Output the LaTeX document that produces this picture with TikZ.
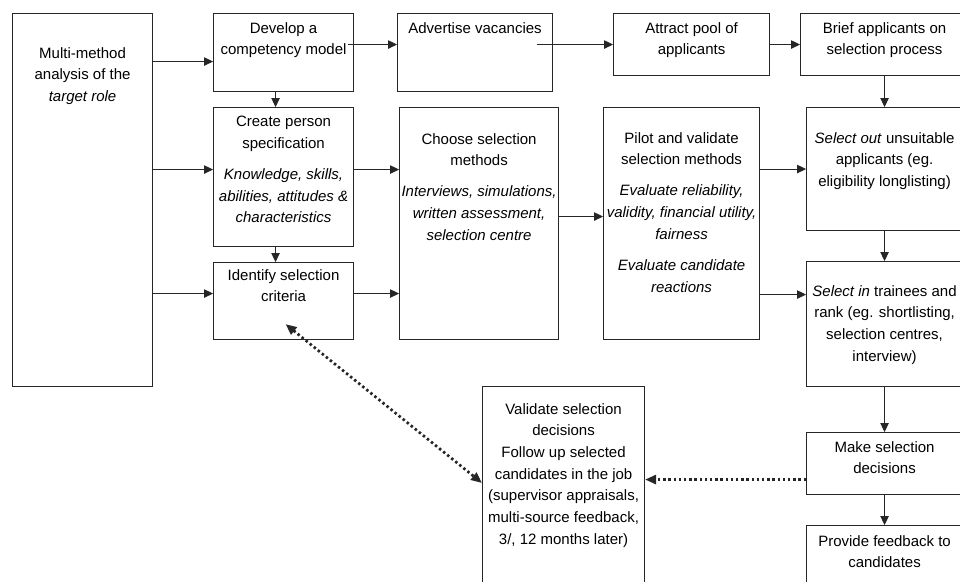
\documentclass[tikz,border=0pt]{standalone}
\usepackage{fontspec}
\setmainfont{Liberation Sans}
\usetikzlibrary{arrows.meta}

\begin{document}
\begin{tikzpicture}[x=1pt, y=-1pt,
    box/.style={draw=black!85, line width=1.1pt, anchor=north west, inner sep=0pt},
    txt/.style={anchor=north, align=center, inner sep=0pt, font=\fontsize{15}{21.7}\selectfont},
    arr/.style={draw=black!85, line width=1.1pt, -{Triangle[length=9pt,width=8.5pt]}},
    dots/.style={draw=black!85, line width=2.7pt, dash pattern=on 2.5pt off 2.7pt}]
  \useasboundingbox (0,0) rectangle (960,581);

  \node(MULTI) [box, minimum width=140pt, minimum height=373pt] at (12,13) {};
  \node(DEV)   [box, minimum width=140pt, minimum height=78pt]  at (213,13) {};
  \node(ADV)   [box, minimum width=155pt, minimum height=78pt]  at (397,13) {};
  \node(ATTR)  [box, minimum width=156pt, minimum height=62pt]  at (613,13) {};
  \node(BRIEF) [box, minimum width=168pt, minimum height=62pt]  at (800,13) {};
  \node(PERS)  [box, minimum width=140pt, minimum height=139pt] at (213,107) {};
  \node(CRIT)  [box, minimum width=140pt, minimum height=77pt]  at (213,262) {};
  \node(METH)  [box, minimum width=159pt, minimum height=232pt] at (399,107) {};
  \node(PILOT) [box, minimum width=156pt, minimum height=232pt] at (603,107) {};
  \node(OUT)   [box, minimum width=156pt, minimum height=123pt] at (806,107) {};
  \node(IN)    [box, minimum width=156pt, minimum height=125pt] at (806,261) {};
  \node(DEC)   [box, minimum width=156pt, minimum height=62pt]  at (806,432) {};
  \node(FEED)  [box, minimum width=156pt, minimum height=80pt]  at (806,525) {};
  \node(VALID) [box, minimum width=162pt, minimum height=220pt] at (482,386) {};

  \node(MULTItxt) [txt] at ([yshift=-34pt]MULTI.north) {Multi-method\\analysis of the\\\textit{target role}};
  \node(DEVtxt)   [txt] at ([yshift=-9pt]DEV.north) {Develop a\\competency model};
  \node(ADVtxt)   [txt] at ([yshift=-9pt]ADV.north) {Advertise vacancies};
  \node(ATTRtxt)  [txt] at ([yshift=-9pt]ATTR.north) {Attract pool of\\applicants};
  \node(BRIEFtxt) [txt] at ([yshift=-9pt]BRIEF.north) {Brief applicants on\\selection process};
  \node(PERStxt)  [txt] at ([yshift=-9pt]PERS.north) {Create person\\specification\\[9.5pt]
    \textit{Knowledge, skills,}\\\textit{abilities, attitudes \&}\\\textit{characteristics}};
  \node(CRITtxt)  [txt] at ([yshift=-7pt]CRIT.north) {Identify selection\\criteria};
  \node(METHtxt)  [txt] at ([yshift=-26pt]METH.north) {Choose selection\\methods\\[9.5pt]
    \textit{Interviews, simulations,}\\\textit{written assessment,}\\\textit{selection centre}};
  \node(PILOTtxt) [txt] at ([yshift=-25pt]PILOT.north) {Pilot and validate\\selection methods\\[9.5pt]
    \textit{Evaluate reliability,}\\\textit{validity, financial utility,}\\\textit{fairness}\\[9.5pt]
    \textit{Evaluate candidate}\\\textit{reactions}};
  \node(OUTtxt)   [txt] at ([yshift=-25pt]OUT.north) {\textit{Select out} unsuitable\\applicants (eg.\\eligibility longlisting)};
  \node(INtxt)    [txt] at ([yshift=-24pt]IN.north) {\textit{Select in} trainees and\\rank (eg. shortlisting,\\selection centres,\\interview)};
  \node(DECtxt)   [txt] at ([yshift=-9pt]DEC.north) {Make selection\\decisions};
  \node(FEEDtxt)  [txt] at ([yshift=-10pt]FEED.north) {Provide feedback to\\candidates};
  \node(VALIDtxt) [txt] at ([yshift=-17pt]VALID.north) {Validate selection\\decisions\\Follow up selected\\candidates in the job\\(supervisor appraisals,\\multi-source feedback,\\3/, 12 months later)};

  \draw[arr] ([yshift=-9pt]DEV.west -| MULTI.east) -- ([yshift=-9pt]DEV.west);
  \draw[arr] ([yshift=7.5pt]PERS.west -| MULTI.east) -- ([yshift=7.5pt]PERS.west);
  \draw[arr] ([yshift=7.5pt]CRIT.west -| MULTI.east) -- ([yshift=7.5pt]CRIT.west);
  \draw[arr] ([xshift=-6pt,yshift=8pt]DEV.east) -- ([yshift=8pt]ADV.west);
  \draw[arr] ([xshift=-16pt,yshift=8pt]ADV.east) -- (ATTR.west);
  \draw[arr] (ATTR.east) -- (BRIEF.west);
  \draw[arr] (BRIEF.south) -- (OUT.north);
  \draw[arr] ([xshift=-8pt]DEV.south) -- ([xshift=-8pt]PERS.north);
  \draw[arr] ([xshift=-8pt]PERS.south) -- ([xshift=-8pt]CRIT.north);
  \draw[arr] ([yshift=7.5pt]PERS.east) -- ([yshift=7.5pt]PERS.east -| METH.west);
  \draw[arr] ([yshift=7.5pt]CRIT.east) -- ([yshift=7.5pt]CRIT.east -| METH.west);
  \draw[arr] ([yshift=7pt]METH.east) -- ([yshift=7pt]PILOT.west);
  \draw[arr] (OUT.west -| PILOT.east) -- (OUT.west);
  \draw[arr] ([yshift=29.5pt]IN.west -| PILOT.east) -- ([yshift=29.5pt]IN.west);
  \draw[arr] (OUT.south) -- (IN.north);
  \draw[arr] (IN.south) -- (DEC.north);
  \draw[arr] (DEC.south) -- (FEED.north);

  \coordinate (FB) at ([yshift=-16pt]DEC.west);
  \draw[dots, -{Triangle[length=11pt,width=9pt]}] (FB) -- (FB -| VALID.east);
  \draw[dots, {Triangle[length=11pt,width=9pt]}-{Triangle[length=11pt,width=9pt]}]
    ([xshift=2pt,yshift=16pt]CRIT.south) -- ([yshift=-97pt]VALID.north west);
\end{tikzpicture}
\end{document}
